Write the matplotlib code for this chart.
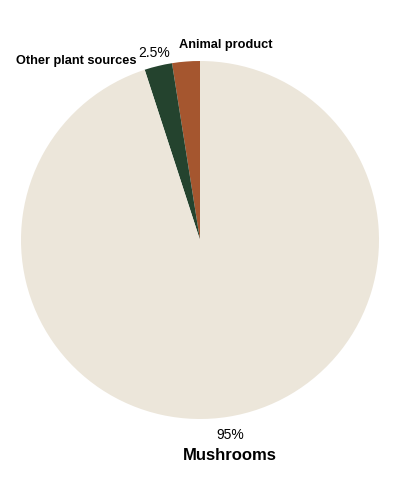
import matplotlib.pyplot as plt

# Data
categories = ["Animal product", "Other plant sources", "Mushrooms"]
shares = [2.5, 2.5, 95]
colors = ["#A5562F", "#24432E", "#ECE6DA"]

plt.rcParams['font.family'] = ['Liberation Sans', 'DejaVu Sans']

fig = plt.figure(figsize=(4, 5), dpi=100)
ax = fig.add_axes([0, 0, 1, 1])

# pie centre at (200, 240) in picture pixels
ax.pie(shares, colors=colors, startangle=90, counterclock=True,
       center=(200, 260), radius=179, frame=True,
       wedgeprops=dict(linewidth=0))
ax.set_xlim(0, 400)
ax.set_ylim(0, 500)
ax.set_aspect('equal')
ax.axis('off')

# labels
ax.text(226, 500 - 45, categories[0], ha='center', va='center',
        fontsize=9.2, fontweight='bold')
ax.text(154, 500 - 53, f"{shares[1]}%", ha='center', va='center', fontsize=10)
ax.text(137, 500 - 61, categories[1], ha='right', va='center',
        fontsize=9.2, fontweight='bold')
ax.text(230, 500 - 435, f"{shares[2]:.0f}%", ha='center', va='center', fontsize=10)
ax.text(230, 500 - 455, categories[2], ha='center', va='center',
        fontsize=12, fontweight='bold')

fig.savefig("out.png", dpi=100)
